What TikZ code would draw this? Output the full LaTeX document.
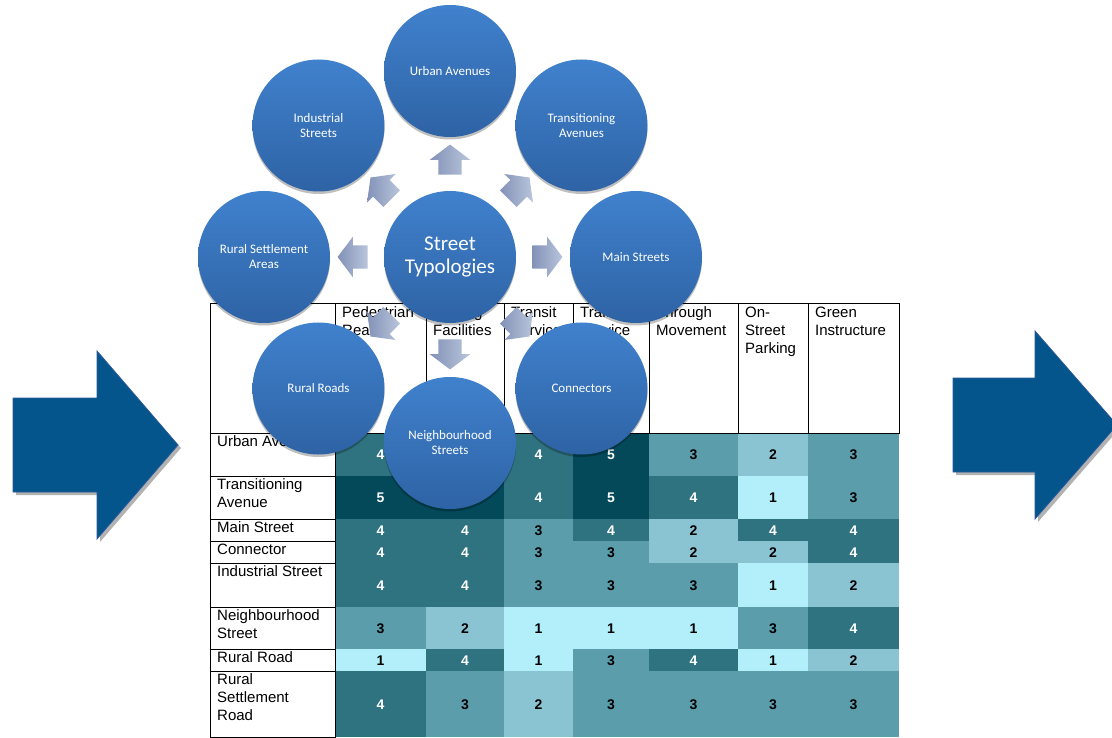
\documentclass[tikz,border=0pt]{standalone}
\usepackage{fontspec}
\setmainfont{Liberation Sans}
\newfontfamily\calib{Carlito}
\usetikzlibrary{shapes.arrows,shadows,calc}
\definecolor{v5}{HTML}{03495A}
\definecolor{v4}{HTML}{2F7280}
\definecolor{v3}{HTML}{5B9DAA}
\definecolor{v2}{HTML}{8AC4D3}
\definecolor{v1}{HTML}{B3EEFB}
\colorlet{t1}{black}
\colorlet{t2}{black}
\colorlet{t3}{black}
\colorlet{t4}{white}
\colorlet{t5}{white}
\definecolor{bigblue}{HTML}{03558C}
\definecolor{bigedge}{HTML}{2D5A9B}
\definecolor{ctop}{HTML}{4081CD}
\definecolor{cbot}{HTML}{2E63A5}
\definecolor{atip}{HTML}{B9C5DB}
\definecolor{abase}{HTML}{8292B7}
\tikzset{
  tline/.style={draw=black, line width=0.9pt},
  hdtext/.style={anchor=north west, inner xsep=7pt, inner ysep=3.5pt, align=left, font=\fontsize{15}{18}\selectfont},
  num/.style={inner sep=0pt, font=\bfseries\fontsize{14}{16}\selectfont},
  bubble/.style={circle, minimum size=132pt, inner sep=0pt, top color=ctop, bottom color=cbot, text=white, align=center, font=\calib\fontsize{13}{15}\selectfont, drop shadow={shadow xshift=0pt, shadow yshift=-2.5pt, opacity=0.25, fill=black}},
  sarrow/.style={single arrow, minimum height=30pt, inner xsep=0pt, inner ysep=11.5pt, single arrow head extend=8.5pt, single arrow tip angle=106, left color=abase, right color=atip, draw=none},
  bigarrow/.style={fill=bigblue, draw=bigedge, line width=0.8pt, drop shadow={shadow xshift=3pt, shadow yshift=-3pt, opacity=0.3, fill=black}}
}
\begin{document}
\begin{tikzpicture}[x=1pt,y=-1pt]
\useasboundingbox (0,0) rectangle (1112,738);
\clip (0,0) rectangle (1112,738);
\fill[white] (0,0) rectangle (1112,738);

% data cells
\foreach \r/\yt/\yb/\vals in {
  1/433/476/{4,4,4,5,3,2,3},
  2/476/519/{5,5,4,5,4,1,3},
  3/519/541/{4,4,3,4,2,4,4},
  4/541/563/{4,4,3,3,2,2,4},
  5/563/607/{4,4,3,3,3,1,2},
  6/607/649/{3,2,1,1,1,3,4},
  7/649/671/{1,4,1,3,4,1,2},
  8/671/737/{4,3,2,3,3,3,3}}{
  \foreach \v [count=\c] in \vals {
    \pgfmathsetmacro\xl{{335,426,504,573,649,738,808,899}[\c-1]}
    \pgfmathsetmacro\xr{{335,426,504,573,649,738,808,899}[\c]}
    \fill[v\v] (\xl,\yt) rectangle (\xr,\yb);
    \pgfmathtruncatemacro\hid{(\c==2)&&(\r<3)}
    \ifnum\hid=0
      \node[num, text=t\v] (c\r-\c) at ({(\xl+\xr)/2},{(\yt+\yb)/2+0.5}) {\v};
    \fi
  }
}

% header row
\foreach \xl/\xr/\txt [count=\i] in {
  210/335/{},
  335/426/{Pedestrian\\Realm},
  426/504/{Cycling\\Facilities},
  504/573/{Transit\\Service},
  573/649/{Traffic\\Service},
  649/738/{Through\\Movement},
  738/808/{On-\\Street\\Parking},
  808/899/{Green\\Instructure}}{
  \draw[tline] (\xl,303) rectangle (\xr,433);
  \node[hdtext] (h\i) at (\xl,303) {\txt};
}

% row headers
\foreach \yt/\yb/\txt [count=\i] in {
  433/476/{Urban Avenue},
  476/519/{Transitioning\\Avenue},
  519/541/{Main Street},
  541/563/{Connector},
  563/607/{Industrial Street},
  607/649/{Neighbourhood\\Street},
  649/671/{Rural Road},
  671/737/{Rural\\Settlement\\Road}}{
  \draw[tline] (210,\yt) rectangle (335,\yb);
  \node[hdtext, inner ysep=2.5pt] (r\i) at (210,\yt) {\txt};
}

% big arrows
\path[bigarrow] (13,398) -- (97,398) -- (97,351) -- (178,445) -- (97,539) -- (97,492) -- (13,492) -- cycle;
\path[bigarrow] (953,378) -- (1035,378) -- (1035,331) -- (1117,425) -- (1035,519) -- (1035,472) -- (953,472) -- cycle;

% bubbles
\node[bubble, font=\calib\fontsize{21}{23}\selectfont] (st) at (450,257) {Street\\Typologies};
\node[bubble] (ua) at (450,71) {Urban Avenues};
\node[bubble] (ta) at (581.5,125.5) {Transitioning\\Avenues};
\node[bubble] (ms) at (636,257) {Main Streets};
\node[bubble] (co) at (581.5,388.5) {Connectors};
\node[bubble] (ns) at (450,443) {Neighbourhood\\Streets};
\node[bubble] (rr) at (318.5,388.5) {Rural Roads};
\node[bubble] (rs) at (264,257) {Rural Settlement\\Areas};
\node[bubble] (is) at (318.5,125.5) {Industrial\\Streets};

% small arrows
\node[sarrow, rotate=90] (a1) at ($(st)!0.5!(ua)$) {};
\node[sarrow, rotate=45] (a2) at ($(st)!0.5!(ta)$) {};
\node[sarrow, rotate=0] (a3) at ($(st)!0.5!(ms)$) {};
\node[sarrow, rotate=-45] (a4) at ($(st)!0.5!(co)$) {};
\node[sarrow, rotate=-90] (a5) at ($(st)!0.5!(ns)$) {};
\node[sarrow, rotate=-135] (a6) at ($(st)!0.5!(rr)$) {};
\node[sarrow, rotate=180] (a7) at ($(st)!0.5!(rs)$) {};
\node[sarrow, rotate=135] (a8) at ($(st)!0.5!(is)$) {};
\end{tikzpicture}
\end{document}
